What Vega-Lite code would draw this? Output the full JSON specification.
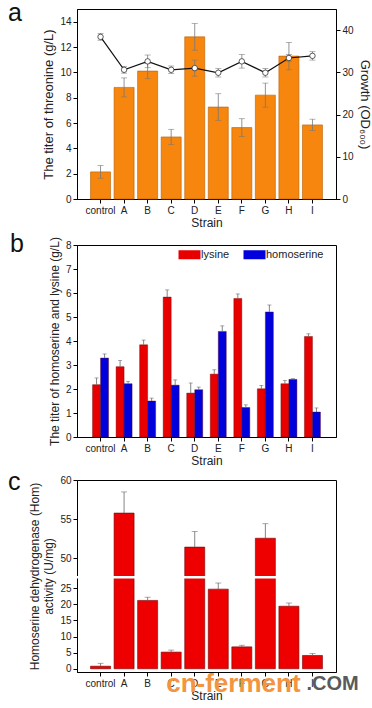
{
  "$schema": "https://vega.github.io/schema/vega-lite/v6.json",
  "padding": {"left": 7, "top": 0, "right": 4, "bottom": 0},
  "background": "white",
  "config": {
    "font": "Liberation Sans",
    "view": {"stroke": "black", "strokeWidth": 1},
    "axis": {"labelFont": "Liberation Sans", "titleFont": "Liberation Sans", "labelFontSize": 10, "titleFontSize": 12, "titleFontWeight": "normal", "labelColor": "#222", "titleColor": "#222", "domainColor": "black", "tickColor": "black", "grid": false, "tickSize": 4, "labelPadding": 2, "labelOverlap": false},
    "title": {"font": "Liberation Sans", "fontWeight": "normal", "color": "#111"},
    "concat": {"spacing": 2}
  },
  "resolve": {"scale": {"color": "independent"}, "legend": {"color": "independent"}},
  "datasets": {
    "a": [
      {"Strain": "control", "titer": 2.14, "tlo": 1.64, "thi": 2.64, "growth": 38.4, "glo": 37.6, "ghi": 39.2},
      {"Strain": "A", "titer": 8.81, "tlo": 8.06, "thi": 9.56, "growth": 30.6, "glo": 29.8, "ghi": 31.4},
      {"Strain": "B", "titer": 10.1, "tlo": 9.5, "thi": 10.7, "growth": 32.6, "glo": 31.1, "ghi": 34.1},
      {"Strain": "C", "titer": 4.9, "tlo": 4.3, "thi": 5.5, "growth": 30.6, "glo": 29.7, "ghi": 31.5},
      {"Strain": "D", "titer": 12.8, "tlo": 11.75, "thi": 13.85, "growth": 31.0, "glo": 29.1, "ghi": 32.9},
      {"Strain": "E", "titer": 7.26, "tlo": 6.21, "thi": 8.31, "growth": 29.9, "glo": 28.9, "ghi": 30.9},
      {"Strain": "F", "titer": 5.64, "tlo": 4.94, "thi": 6.34, "growth": 32.6, "glo": 31.0, "ghi": 34.2},
      {"Strain": "G", "titer": 8.2, "tlo": 7.25, "thi": 9.15, "growth": 29.9, "glo": 28.9, "ghi": 30.9},
      {"Strain": "H", "titer": 11.28, "tlo": 10.2, "thi": 12.36, "growth": 33.4, "glo": 32.6, "ghi": 34.2},
      {"Strain": "I", "titer": 5.85, "tlo": 5.4, "thi": 6.3, "growth": 33.9, "glo": 32.9, "ghi": 34.9}
    ],
    "b": [
      {"Strain": "control", "type": "lysine", "value": 2.18, "hi": 2.46},
      {"Strain": "A", "type": "lysine", "value": 2.93, "hi": 3.19},
      {"Strain": "B", "type": "lysine", "value": 3.84, "hi": 4.04},
      {"Strain": "C", "type": "lysine", "value": 5.83, "hi": 6.13},
      {"Strain": "D", "type": "lysine", "value": 1.83, "hi": 2.25},
      {"Strain": "E", "type": "lysine", "value": 2.62, "hi": 2.8},
      {"Strain": "F", "type": "lysine", "value": 5.77, "hi": 5.96},
      {"Strain": "G", "type": "lysine", "value": 2.01, "hi": 2.15},
      {"Strain": "H", "type": "lysine", "value": 2.22, "hi": 2.36},
      {"Strain": "I", "type": "lysine", "value": 4.19, "hi": 4.3},
      {"Strain": "control", "type": "homoserine", "value": 3.29, "hi": 3.46},
      {"Strain": "A", "type": "homoserine", "value": 2.22, "hi": 2.32},
      {"Strain": "B", "type": "homoserine", "value": 1.5, "hi": 1.62},
      {"Strain": "C", "type": "homoserine", "value": 2.16, "hi": 2.38},
      {"Strain": "D", "type": "homoserine", "value": 1.97, "hi": 2.08},
      {"Strain": "E", "type": "homoserine", "value": 4.4, "hi": 4.63},
      {"Strain": "F", "type": "homoserine", "value": 1.23, "hi": 1.34},
      {"Strain": "G", "type": "homoserine", "value": 5.21, "hi": 5.5},
      {"Strain": "H", "type": "homoserine", "value": 2.4, "hi": 2.43},
      {"Strain": "I", "type": "homoserine", "value": 1.04, "hi": 1.21}
    ],
    "c": [
      {"Strain": "control", "act": 0.8, "hi": 1.7},
      {"Strain": "A", "act": 55.76, "hi": 58.47},
      {"Strain": "B", "act": 21.2, "hi": 22.2},
      {"Strain": "C", "act": 5.17, "hi": 5.8},
      {"Strain": "D", "act": 51.4, "hi": 53.4},
      {"Strain": "E", "act": 24.7, "hi": 26.6},
      {"Strain": "F", "act": 6.8, "hi": 7.3},
      {"Strain": "G", "act": 52.54, "hi": 54.4},
      {"Strain": "H", "act": 19.4, "hi": 20.4},
      {"Strain": "I", "act": 4.13, "hi": 4.7}
    ],
    "brk": [{"lo": 28, "hi": 47.7}],
    "wm": [{"t1": "cn-ferment", "t2": ".COM", "s1": "C", "s2": "I", "y": -4.7}]
  },
  "vconcat": [
    {
      "width": 259, "height": 190,
      "title": {"text": "a", "anchor": "start", "frame": "group", "fontSize": 25, "dx": -69, "dy": 17, "offset": 0},
      "data": {"name": "a"},
      "layer": [
        {
          "encoding": {
            "x": {"field": "Strain", "type": "nominal", "sort": null, "scale": {"domain": ["control","A","B","C","D","E","F","G","H","I"], "paddingInner": 0.15, "paddingOuter": 0.575}, "axis": {"title": "Strain", "labelAngle": 0, "titleFontSize": 12, "titlePadding": 2}}
          },
          "layer": [
            {"mark": {"type": "bar", "color": "#F7860F", "stroke": "#B85E00", "strokeWidth": 0.6},
             "encoding": {"y": {"field": "titer", "type": "quantitative", "scale": {"domain": [0, 15], "nice": false}, "axis": {"title": "The titer of threonine (g/L)", "values": [0,2,4,6,8,10,12,14], "tickCount": 50, "format": "d", "titleFontSize": 13}}}},
            {"mark": {"type": "rule", "color": "#777", "strokeWidth": 0.8},
             "encoding": {"y": {"field": "tlo", "type": "quantitative"}, "y2": {"field": "thi"}}},
            {"mark": {"type": "tick", "color": "#777", "size": 6, "thickness": 0.8},
             "encoding": {"y": {"field": "thi", "type": "quantitative"}}},
            {"mark": {"type": "tick", "color": "#777", "size": 6, "thickness": 0.8},
             "encoding": {"y": {"field": "tlo", "type": "quantitative"}}}
          ]
        },
        {
          "encoding": {
            "x": {"field": "Strain", "type": "nominal", "sort": null}
          },
          "layer": [
            {"mark": {"type": "rule", "color": "#777", "strokeWidth": 0.8},
             "encoding": {"y": {"field": "glo", "type": "quantitative", "scale": {"domain": [0, 45], "nice": false}, "axis": {"orient": "right", "title": "Growth (OD₆₀₀)", "values": [0,10,20,30,40], "tickCount": 50, "format": "d", "titleFontSize": 13}}, "y2": {"field": "ghi"}}},
            {"mark": {"type": "tick", "color": "#777", "size": 6, "thickness": 0.8},
             "encoding": {"y": {"field": "ghi", "type": "quantitative"}}},
            {"mark": {"type": "tick", "color": "#777", "size": 6, "thickness": 0.8},
             "encoding": {"y": {"field": "glo", "type": "quantitative"}}},
            {"mark": {"type": "line", "color": "#111", "strokeWidth": 1.2},
             "encoding": {"y": {"field": "growth", "type": "quantitative"}}},
            {"mark": {"type": "point", "shape": "circle", "filled": true, "fill": "white", "stroke": "#333", "strokeWidth": 0.8, "size": 30, "opacity": 1},
             "encoding": {"y": {"field": "growth", "type": "quantitative"}}}
          ]
        }
      ],
      "resolve": {"scale": {"y": "independent"}}
    },
    {
      "width": 259, "height": 192,
      "title": {"text": "b", "anchor": "start", "frame": "group", "fontSize": 25, "dx": -67, "dy": 20, "offset": 0},
      "data": {"name": "b"},
      "encoding": {
        "x": {"field": "Strain", "type": "nominal", "sort": null, "scale": {"domain": ["control","A","B","C","D","E","F","G","H","I"], "paddingInner": 0.32, "paddingOuter": 0.66}, "axis": {"title": "Strain", "labelAngle": 0, "titleFontSize": 12, "titlePadding": 2}},
        "xOffset": {"field": "type", "type": "nominal", "scale": {"domain": ["lysine", "homoserine"], "paddingInner": 0, "paddingOuter": 0}}
      },
      "layer": [
        {"mark": {"type": "bar", "stroke": "#600", "strokeWidth": 0.4},
         "encoding": {
           "y": {"field": "value", "type": "quantitative", "scale": {"domain": [0, 8], "nice": false}, "axis": {"title": "The titer of homoserine and lysine (g/L)", "values": [0,1,2,3,4,5,6,7,8], "tickCount": 50, "format": "d", "titleFontSize": 12}},
           "color": {"field": "type", "type": "nominal", "scale": {"domain": ["lysine", "homoserine"], "range": ["#E80000", "#0000DD"]},
             "legend": {"title": null, "orient": "none", "direction": "horizontal", "legendX": 101, "legendY": 4, "symbolType": "M-1,-0.9H3.4V0.9H-1Z", "symbolSize": 100, "symbolStrokeWidth": 0, "symbolOpacity": 1, "labelFontSize": 11, "labelFont": "Liberation Sans", "labelColor": "#222", "labelOffset": 12, "columnPadding": 13, "padding": 0}}
         }},
        {"mark": {"type": "rule", "color": "#666", "strokeWidth": 0.8},
         "encoding": {"y": {"field": "value", "type": "quantitative"}, "y2": {"field": "hi"}}},
        {"mark": {"type": "tick", "color": "#666", "size": 4, "thickness": 0.8},
         "encoding": {"y": {"field": "hi", "type": "quantitative"}}}
      ]
    },
    {
      "width": 259, "height": 192,
      "title": {"text": "c", "anchor": "start", "frame": "group", "fontSize": 25, "dx": -69, "dy": 20, "offset": 0},
      "layer": [
        {
          "data": {"name": "c"},
          "encoding": {
            "x": {"field": "Strain", "type": "nominal", "sort": null, "scale": {"domain": ["control","A","B","C","D","E","F","G","H","I"], "paddingInner": 0.15, "paddingOuter": 0.575}, "axis": {"title": "Strain", "labelAngle": 0, "titleFontSize": 12, "titlePadding": 2}}
          },
          "layer": [
            {"mark": {"type": "bar", "color": "#EE0000", "stroke": "#700", "strokeWidth": 0.6},
             "encoding": {"y": {"field": "act", "type": "quantitative", "scale": {"type": "linear", "domain": [-1, 28, 47.7, 60], "range": [192, 98.5, 96, 0], "nice": false, "zero": false, "clamp": false}, "axis": {"title": ["Homoserine  dehydrogenase (Hom)", "activity (U/mg)"], "values": [0,5,10,15,20,25,50,55,60], "tickCount": 50, "format": "d", "titleFontSize": 12}}}},
            {"mark": {"type": "rule", "color": "#666", "strokeWidth": 0.8},
             "encoding": {"y": {"field": "act", "type": "quantitative"}, "y2": {"field": "hi"}}},
            {"mark": {"type": "tick", "color": "#666", "size": 6, "thickness": 0.8},
             "encoding": {"y": {"field": "hi", "type": "quantitative"}}}
          ]
        },
        {
          "data": {"name": "brk"},
          "mark": {"type": "rect", "color": "white"},
          "encoding": {"y": {"field": "lo", "type": "quantitative"}, "y2": {"field": "hi"}}
        },
        {
          "data": {"name": "wm"},
          "layer": [
            {"mark": {"type": "text", "align": "left", "baseline": "middle", "fontSize": 26, "fontWeight": "bold", "color": "#F39440", "dx": -5, "clip": false},
             "encoding": {"x": {"field": "s1", "type": "nominal"}, "y": {"field": "y", "type": "quantitative"}, "text": {"field": "t1"}}},
            {"mark": {"type": "text", "align": "left", "baseline": "middle", "fontSize": 20, "fontWeight": "bold", "color": "#5a5a5a", "dx": -6, "clip": false},
             "encoding": {"x": {"field": "s2", "type": "nominal"}, "y": {"field": "y", "type": "quantitative"}, "text": {"field": "t2"}}}
          ]
        }
      ]
    }
  ]
}
